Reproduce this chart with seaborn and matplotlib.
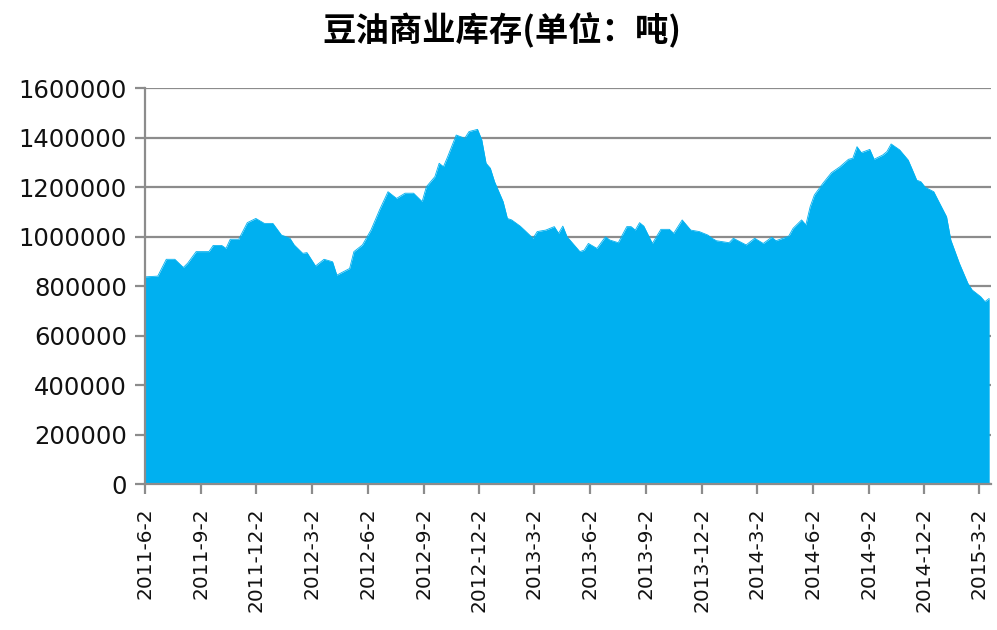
import pandas as pd
import numpy as np
import matplotlib
matplotlib.use('Agg')
import matplotlib.pyplot as plt
import seaborn as sns

# weekly report number counted from 2011-06-02 (thursday releases)
start_date = '2011-06-02'
week_no = [0, 3, 5, 7, 9, 10, 12, 15, 16, 18, 19, 20, 22, 24, 26, 28, 30, 32, 34,
           35, 37, 38, 40, 42, 44, 45, 48, 49, 51, 53, 55, 57, 59, 61, 63, 65, 66,
           68, 69, 70, 71, 73, 75, 76, 78, 79, 80, 81, 82, 84, 85, 86, 88, 89, 91,
           92, 94, 96, 97, 98, 99,
           100, 102, 103, 104, 106, 108, 109, 111, 113, 114, 115, 116, 117, 119,
           121, 123, 124, 126, 128, 130, 132,
           133, 134, 137, 138, 141, 143, 145, 147, 148, 151, 152, 154, 155, 156,
           157, 159, 161, 163, 165,
           166, 167, 168, 170, 171, 173, 174, 175, 177, 179, 180, 181, 182, 183,
           185, 186, 188, 189, 191, 193, 194, 196, 197, 198]

stock = [837000, 840000, 908000, 908000, 875000, 892000, 939000, 939000, 964000,
         964000, 952000, 989000, 989000, 1056000, 1073000, 1053000, 1053000,
         1006000, 993000,
         966000, 932000, 935000, 881000, 908000, 898000, 844000, 871000, 939000,
         966000, 1026000, 1107000, 1181000, 1154000, 1175000, 1175000, 1141000,
         1201000,
         1242000, 1296000, 1282000, 1323000, 1410000, 1397000, 1424000, 1433000,
         1390000, 1296000, 1276000, 1221000, 1141000, 1073000, 1067000, 1042000,
         1026000, 993000, 1020000, 1026000, 1040000, 1013000, 1042000, 999000,
         979000, 939000, 945000, 972000, 952000, 999000, 986000, 975000, 1040000,
         1040000, 1026000, 1056000, 1042000, 972000, 1029000, 1029000, 1013000,
         1067000, 1026000, 1020000, 1006000,
         993000, 983000, 975000, 993000, 966000, 993000, 972000, 997000, 983000,
         1002000, 1033000, 1067000, 1047000, 1120000, 1168000, 1215000, 1258000,
         1282000, 1312000,
         1316000, 1363000, 1339000, 1352000, 1312000, 1329000, 1343000, 1374000,
         1350000, 1309000, 1269000, 1228000, 1221000, 1199000, 1181000, 1147000,
         1080000, 986000, 892000, 811000, 784000, 757000, 737000, 750000]

tick_dates = ['2011-06-02', '2011-09-02', '2011-12-02', '2012-03-02', '2012-06-02',
              '2012-09-02', '2012-12-02', '2013-03-02', '2013-06-02', '2013-09-02',
              '2013-12-02', '2014-03-02', '2014-06-02', '2014-09-02', '2014-12-02',
              '2015-03-02']
tick_labels = ['2011-6-2', '2011-9-2', '2011-12-2', '2012-3-2', '2012-6-2',
               '2012-9-2', '2012-12-2', '2013-3-2', '2013-6-2', '2013-9-2',
               '2013-12-2', '2014-3-2', '2014-6-2', '2014-9-2', '2014-12-2',
               '2015-3-2']

df = pd.DataFrame({'date': pd.to_datetime(start_date) + pd.to_timedelta(np.array(week_no) * 7, unit='D'),
                   'stock': stock})

sns.set_style('white')
plt.rcParams['font.family'] = ['DejaVu Sans', 'Noto Sans CJK SC']

fig = plt.figure(figsize=(9.97, 6.3), dpi=100)
ax = fig.add_axes([0.1454, 0.2317, 0.8486, 0.6286])

area_color = '#00B0F0'
grid_color = '#8C8C8C'

sns.lineplot(data=df, x='date', y='stock', color=area_color, linewidth=0.6, ax=ax)
ax.fill_between(df['date'], df['stock'], 0, color=area_color, linewidth=0)

ax.set_ylim(0, 1600000)
ax.set_yticks(np.arange(0, 1600001, 200000))
ax.set_yticklabels([str(v) for v in range(0, 1600001, 200000)], fontsize=17.5)
ax.set_xlim(pd.to_datetime(start_date), df['date'].iloc[-1] + pd.Timedelta(days=3))
ax.set_xticks(pd.to_datetime(tick_dates))
ax.set_xticklabels(tick_labels, rotation=90, fontsize=14.5)

ax.set_axisbelow(True)
ax.yaxis.grid(True, color=grid_color, linewidth=1.6)
ax.xaxis.grid(False)
for side in ['top', 'right']:
    ax.spines[side].set_visible(False)
for side in ['left', 'bottom']:
    ax.spines[side].set_color(grid_color)
    ax.spines[side].set_linewidth(1.6)
ax.tick_params(axis='y', which='major', direction='out', length=7, width=1.6,
               color=grid_color, labelcolor='#111111', pad=6, left=True)
ax.tick_params(axis='x', which='major', direction='out', length=7, width=1.6,
               color=grid_color, labelcolor='#111111', pad=10, bottom=True)
ax.set_xlabel('')
ax.set_ylabel('')

fig.text(0.503, 0.952, '豆油商业库存(单位：吨)', ha='center', va='center',
         fontsize=24, fontweight='bold', color='black',
         family=['Noto Sans CJK SC', 'DejaVu Sans'])

fig.savefig('out.png', dpi=100)
